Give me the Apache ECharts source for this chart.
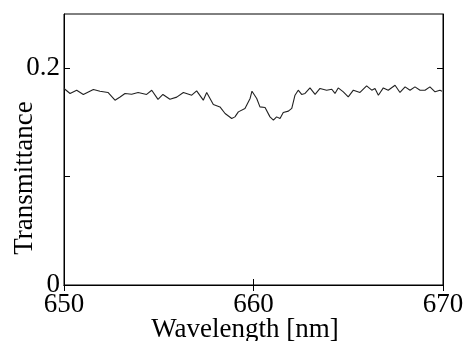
<!DOCTYPE html>
<html>
<head>
<meta charset="utf-8">
<script src="https://cdn.jsdelivr.net/npm/echarts@6/dist/echarts.min.js"></script>
<style>html,body{margin:0;padding:0;background:#fff}#c{width:467px;height:341px}</style>
</head>
<body>
<div id="c"></div>
<script>
const wavelength = [650.00,650.32,650.67,651.02,651.55,651.90,652.32,652.69,652.96,653.22,653.57,653.91,654.36,654.63,654.96,655.22,655.59,655.95,656.30,656.74,657.00,657.35,657.53,657.88,658.23,658.50,658.85,659.02,659.20,659.55,659.82,659.92,660.17,660.34,660.61,660.87,661.05,661.22,661.40,661.57,661.84,662.02,662.19,662.36,662.54,662.72,662.98,663.25,663.51,663.86,664.13,664.30,664.47,664.74,665.00,665.27,665.62,665.97,666.24,666.41,666.59,666.85,667.11,667.47,667.73,668.00,668.26,668.52,668.79,669.05,669.31,669.58,669.84,669.95];
const transmittance = [0.1813,0.1767,0.1797,0.1758,0.1804,0.1788,0.1776,0.1705,0.1735,0.1767,0.1760,0.1776,0.1758,0.1797,0.1712,0.1758,0.1714,0.1733,0.1776,0.1751,0.1791,0.1705,0.1776,0.1665,0.1643,0.1582,0.1536,0.1551,0.1597,0.1629,0.1721,0.1788,0.1721,0.1643,0.1638,0.1551,0.1521,0.1551,0.1536,0.1592,0.1604,0.1629,0.1751,0.1797,0.1758,0.1767,0.1818,0.1758,0.1813,0.1797,0.1806,0.1767,0.1818,0.1782,0.1735,0.1797,0.1776,0.1837,0.1797,0.1813,0.1751,0.1818,0.1797,0.1843,0.1776,0.1828,0.1797,0.1828,0.1797,0.1797,0.1828,0.1782,0.1797,0.1788];
const xTicks = [650, 660, 670];
const yTicks = [0, 0.1, 0.2];
const yTickLabels = [0, 0.2];
const xName = 'Wavelength [nm]';
const yName = 'Transmittance';

const font = 'Liberation Serif, Times New Roman, serif';
const fs = 27;
const chart = echarts.init(document.getElementById('c'), null, {renderer: 'canvas'});
const tick = {show: true, inside: true, length: 6, lineStyle: {color: '#000', width: 1}};
chart.setOption({
  animation: false,
  backgroundColor: '#fff',
  grid: {left: 64, right: 24, top: 14, bottom: 56, show: true, borderColor: '#000', borderWidth: 1, backgroundColor: 'transparent', containLabel: false, outerBoundsMode: 'none'},
  xAxis: [{
    type: 'value', min: 650, max: 670, interval: 10, position: 'bottom',
    name: xName, nameLocation: 'middle', nameGap: 31, nameMoveOverlap: false,
    nameTextStyle: {fontFamily: font, fontSize: fs, color: '#000', padding: [0, 17, 0, 0]},
    axisLine: {show: true, lineStyle: {color: '#000', width: 1}},
    axisTick: Object.assign({customValues: xTicks}, tick),
    splitLine: {show: false},
    axisLabel: {customValues: xTicks, margin: 6, fontFamily: font, fontSize: fs, color: '#000'}
  }, {
    type: 'value', min: 650, max: 670, interval: 10, position: 'top',
    axisLine: {show: true, lineStyle: {color: '#000', width: 1}},
    axisTick: Object.assign({customValues: xTicks}, tick),
    splitLine: {show: false}, axisLabel: {show: false}
  }],
  yAxis: [{
    type: 'value', min: 0, max: 0.25, position: 'left',
    name: yName, nameLocation: 'middle', nameGap: 26, nameMoveOverlap: false,
    nameTextStyle: {fontFamily: font, fontSize: fs, color: '#000', padding: [0, 57, 0, 0]},
    axisLine: {show: true, lineStyle: {color: '#000', width: 1}},
    axisTick: Object.assign({customValues: yTicks}, tick),
    splitLine: {show: false},
    axisLabel: {customValues: yTickLabels, margin: 4, fontFamily: font, fontSize: fs, color: '#000'}
  }, {
    type: 'value', min: 0, max: 0.25, position: 'right',
    axisLine: {show: true, lineStyle: {color: '#000', width: 1}},
    axisTick: Object.assign({customValues: yTicks}, tick),
    splitLine: {show: false}, axisLabel: {show: false}
  }],
  series: [{
    type: 'line', xAxisIndex: 0, yAxisIndex: 0,
    data: wavelength.map((w, i) => [w, transmittance[i]]),
    showSymbol: false, symbol: 'none',
    lineStyle: {color: '#222', width: 1.1}
  }]
});
</script>
</body>
</html>
